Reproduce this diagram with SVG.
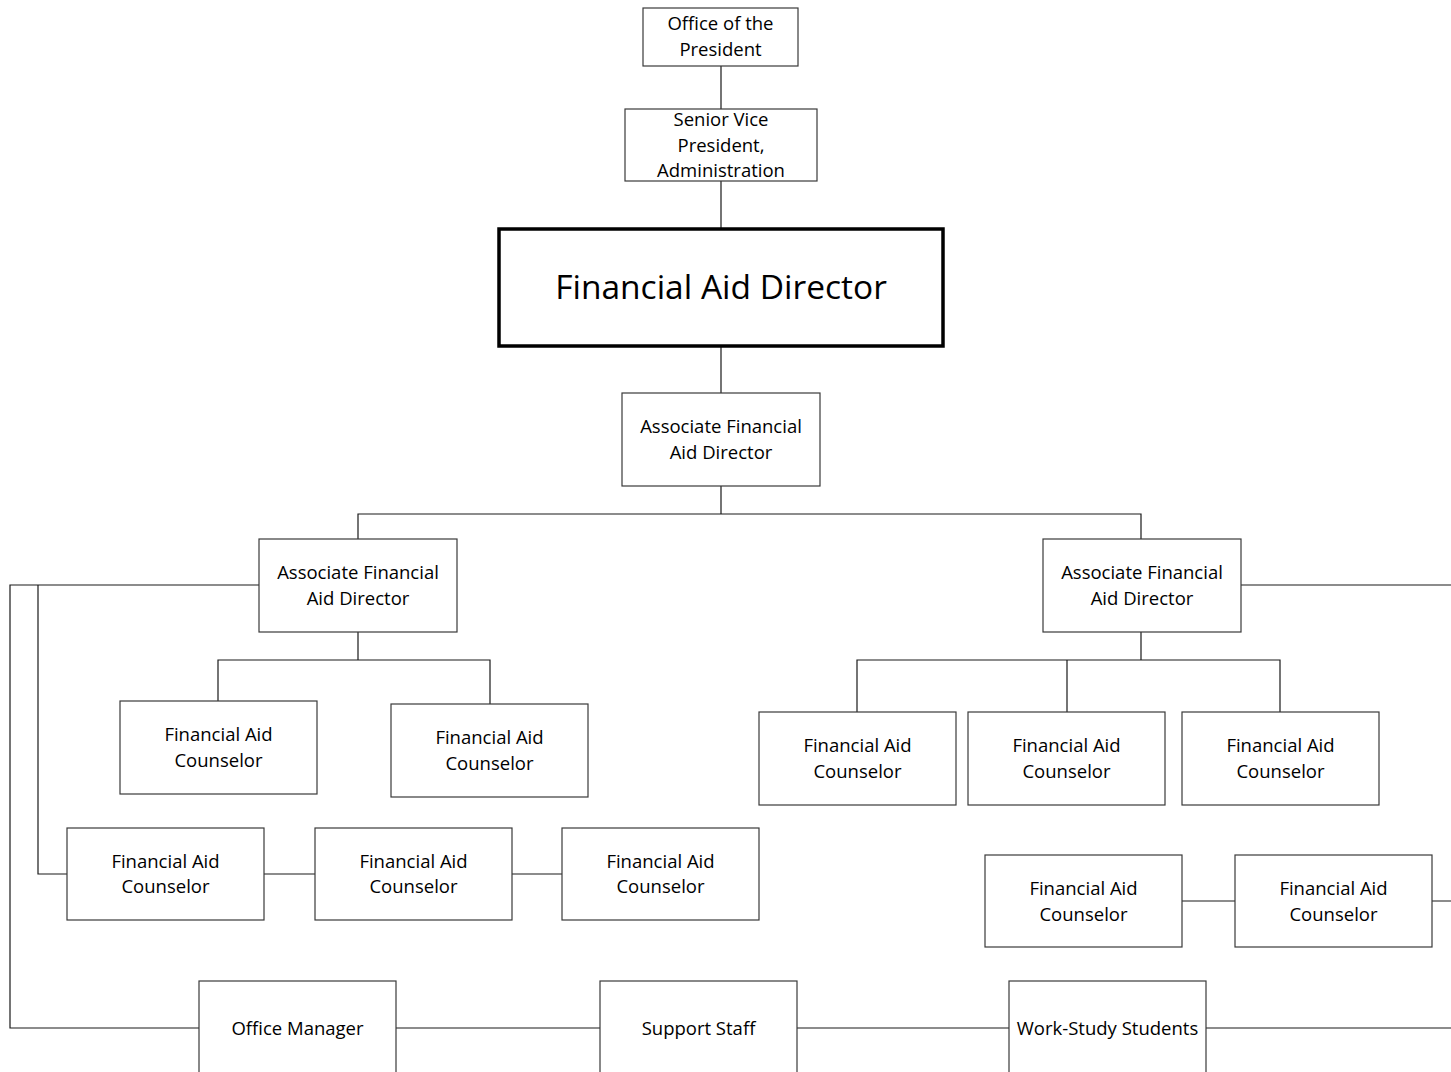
<svg xmlns="http://www.w3.org/2000/svg" width="1451" height="1072" viewBox="0 0 1451 1072">
  <style>
    .box { fill: #ffffff; stroke: #3a3a3a; stroke-width: 1.2; }
    .main { fill: #ffffff; stroke: #000000; stroke-width: 3.5; }
    .lbl { font-family: "Open Sans", "Noto Sans", "Liberation Sans", sans-serif; font-size: 18.5px; fill: #000000; text-anchor: middle; dominant-baseline: central; }
    .big { font-size: 33.5px; }
    .wire { fill: none; stroke: #1a1a1a; stroke-width: 1.2; }
  </style>

  <!-- reporting lines -->
  <g id="connectors">
    <path class="wire" d="M721 66 V109 M721 181 V229 M721 346 V393 M721 486 V514"/>
    <path class="wire" d="M358 539 V514 H1141 V539"/>
    <path class="wire" d="M259 585 H10 V1028 H199"/>
    <path class="wire" d="M38 585 V874 H67"/>
    <path class="wire" d="M264 874 H315 M512 874 H562"/>
    <path class="wire" d="M358 632 V660 M218 701 V660 H490 V704"/>
    <path class="wire" d="M1241 585 H1451"/>
    <path class="wire" d="M1141 632 V660 M857 712 V660 H1280 V712 M1067 660 V712"/>
    <path class="wire" d="M1182 901 H1235 M1432 901 H1451"/>
    <path class="wire" d="M396 1028 H600 M797 1028 H1009 M1206 1028 H1451"/>
  </g>

  <g id="office-of-the-president">
    <rect class="box" x="643" y="8" width="155" height="58"/>
    <text class="lbl" x="720.5" y="22">Office of the</text>
    <text class="lbl" x="720.5" y="48">President</text>
  </g>

  <g id="senior-vice-president">
    <rect class="box" x="625" y="109" width="192" height="72"/>
    <text class="lbl" x="721" y="118">Senior Vice</text>
    <text class="lbl" x="721" y="144">President,</text>
    <text class="lbl" x="721" y="169">Administration</text>
  </g>

  <g id="financial-aid-director">
    <rect class="main" x="499" y="229" width="444" height="117"/>
    <text class="lbl big" x="721" y="286">Financial Aid Director</text>
  </g>

  <g id="associate-director-main">
    <rect class="box" x="622" y="393" width="198" height="93"/>
    <text class="lbl" x="721" y="425">Associate Financial</text>
    <text class="lbl" x="721" y="451">Aid Director</text>
  </g>

  <g id="associate-director-left">
    <rect class="box" x="259" y="539" width="198" height="93"/>
    <text class="lbl" x="358" y="571">Associate Financial</text>
    <text class="lbl" x="358" y="597">Aid Director</text>
  </g>

  <g id="associate-director-right">
    <rect class="box" x="1043" y="539" width="198" height="93"/>
    <text class="lbl" x="1142" y="571">Associate Financial</text>
    <text class="lbl" x="1142" y="597">Aid Director</text>
  </g>

  <g id="counselor-l1">
    <rect class="box" x="120" y="701" width="197" height="93"/>
    <text class="lbl" x="218.5" y="733">Financial Aid</text>
    <text class="lbl" x="218.5" y="759">Counselor</text>
  </g>
  <g id="counselor-l2">
    <rect class="box" x="391" y="704" width="197" height="93"/>
    <text class="lbl" x="489.5" y="736">Financial Aid</text>
    <text class="lbl" x="489.5" y="762">Counselor</text>
  </g>
  <g id="counselor-l3">
    <rect class="box" x="67" y="828" width="197" height="92"/>
    <text class="lbl" x="165.5" y="860">Financial Aid</text>
    <text class="lbl" x="165.5" y="885">Counselor</text>
  </g>
  <g id="counselor-l4">
    <rect class="box" x="315" y="828" width="197" height="92"/>
    <text class="lbl" x="413.5" y="860">Financial Aid</text>
    <text class="lbl" x="413.5" y="885">Counselor</text>
  </g>
  <g id="counselor-l5">
    <rect class="box" x="562" y="828" width="197" height="92"/>
    <text class="lbl" x="660.5" y="860">Financial Aid</text>
    <text class="lbl" x="660.5" y="885">Counselor</text>
  </g>

  <g id="counselor-r1">
    <rect class="box" x="759" y="712" width="197" height="93"/>
    <text class="lbl" x="857.5" y="744">Financial Aid</text>
    <text class="lbl" x="857.5" y="770">Counselor</text>
  </g>
  <g id="counselor-r2">
    <rect class="box" x="968" y="712" width="197" height="93"/>
    <text class="lbl" x="1066.5" y="744">Financial Aid</text>
    <text class="lbl" x="1066.5" y="770">Counselor</text>
  </g>
  <g id="counselor-r3">
    <rect class="box" x="1182" y="712" width="197" height="93"/>
    <text class="lbl" x="1280.5" y="744">Financial Aid</text>
    <text class="lbl" x="1280.5" y="770">Counselor</text>
  </g>
  <g id="counselor-r4">
    <rect class="box" x="985" y="855" width="197" height="92"/>
    <text class="lbl" x="1083.5" y="887">Financial Aid</text>
    <text class="lbl" x="1083.5" y="913">Counselor</text>
  </g>
  <g id="counselor-r5">
    <rect class="box" x="1235" y="855" width="197" height="92"/>
    <text class="lbl" x="1333.5" y="887">Financial Aid</text>
    <text class="lbl" x="1333.5" y="913">Counselor</text>
  </g>

  <g id="office-manager">
    <rect class="box" x="199" y="981" width="197" height="100"/>
    <text class="lbl" x="297.5" y="1027">Office Manager</text>
  </g>
  <g id="support-staff">
    <rect class="box" x="600" y="981" width="197" height="100"/>
    <text class="lbl" x="698.5" y="1027">Support Staff</text>
  </g>
  <g id="work-study-students">
    <rect class="box" x="1009" y="981" width="197" height="100"/>
    <text class="lbl" x="1107.5" y="1027">Work-Study Students</text>
  </g>
</svg>
